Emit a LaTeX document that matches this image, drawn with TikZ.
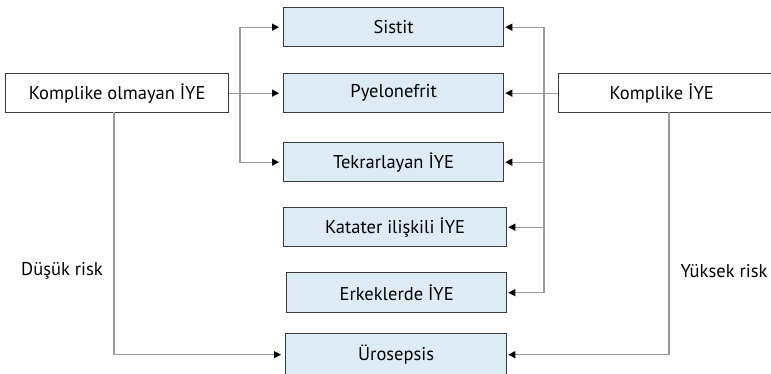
\documentclass[tikz,border=0pt]{standalone}
\usepackage{fontspec}
\setmainfont{PT Sans}
\usetikzlibrary{arrows.meta}
\definecolor{boxblue}{HTML}{DDEBF5}
\definecolor{linegray}{HTML}{9A9A9A}
\definecolor{boxedge}{HTML}{3A3A3A}
\begin{document}
\begin{tikzpicture}[x=1pt,y=-1pt,
  base/.style={draw=boxedge,line width=1.3pt,inner sep=0pt,anchor=north west,font=\fontsize{18.5}{20}\selectfont},
  whitebox/.style={base,fill=white},
  bluebox/.style={base,fill=boxblue},
  conn/.style={draw=linegray,line width=1.2pt},
  arr/.style={conn,-{Triangle[length=7pt,width=7pt,color=black]},shorten >=4pt},
  lbl/.style={font=\fontsize{18.5}{20}\selectfont}
]
\useasboundingbox (0,0) rectangle (771,373);
% boxes
\node[whitebox,minimum width=223pt,minimum height=39pt] (L) at (5,73) {Komplike olmayan İYE};
\node[whitebox,minimum width=220pt,minimum height=39pt] (R) at (558,73) {\hspace*{-6pt}Komplike İYE\hspace*{8pt}};
\node[bluebox,minimum width=220pt,minimum height=39pt] (S) at (283,7) {Sistit};
\node[bluebox,minimum width=220pt,minimum height=39pt] (P) at (283,73) {Pyelonefrit};
\node[bluebox,minimum width=220pt,minimum height=39pt] (T) at (283,142) {Tekrarlayan İYE};
\node[bluebox,minimum width=223pt,minimum height=39pt] (K) at (283,207) {Katater ilişkili İYE};
\node[bluebox,minimum width=220pt,minimum height=40pt] (E) at (286,272) {Erkeklerde İYE};
\node[bluebox,minimum width=221pt,minimum height=42pt] (U) at (285,333) {Ürosepsis};
% labels
\node[lbl] (dl) at (62,271) {Düşük risk};
\node[lbl] (yl) at (724,271) {Yüksek risk};
% left connectors
\coordinate (lj) at (240,93);
\coordinate (ld) at (114,112);
\draw[arr] (L.east) -- (P.west);
\draw[arr] (lj) |- (S.west);
\draw[arr] (lj) |- (T.west);
\draw[arr] (ld) |- (U.west);
% right connectors
\coordinate (rj) at (544,93);
\coordinate (rd) at (669,112);
\draw[arr,shorten >=1pt] (R.west) -- (P.east);
\draw[arr,shorten >=1pt] (rj) |- (S.east);
\draw[arr,shorten >=1pt] (rj) |- (T.east);
\draw[arr,shorten >=1pt] (rj) |- (K.east);
\draw[arr,shorten >=1pt] (rj) |- (E.east);
\draw[arr,shorten >=1pt] (rd) |- (U.east);
\end{tikzpicture}
\end{document}
